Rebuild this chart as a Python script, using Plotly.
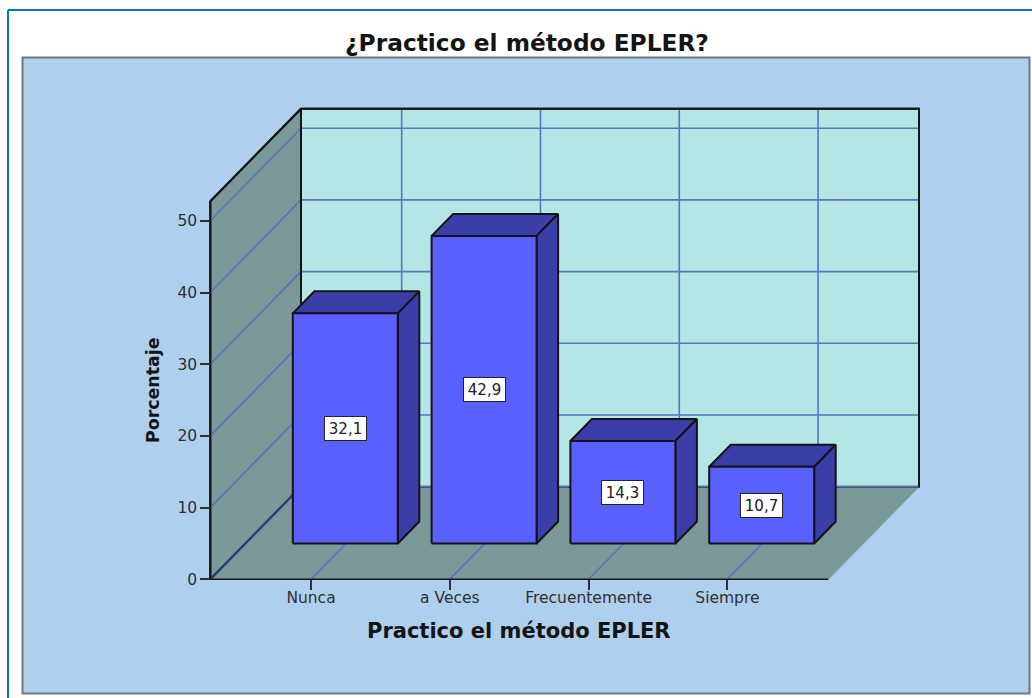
import plotly.graph_objects as go

categories = ["Nunca", "a Veces", "Frecuentemente", "Siempre"]
values = [32.1, 42.9, 14.3, 10.7]
value_labels = ["32,1", "42,9", "14,3", "10,7"]
y_ticks = [0, 10, 20, 30, 40, 50]

W, H = 1032, 698
px_per_cat = 138.8
px_per_val = 7.17
x0_px = 311.0
y0_px = 579.3
left_px, right_px, top_px = 210.3, 828.3, 201.3
page_x = [(0 - x0_px) / px_per_cat, (W - x0_px) / px_per_cat]
page_y = [(y0_px - H) / px_per_val, y0_px / px_per_val]
a = (left_px - x0_px) / px_per_cat
b = (right_px - x0_px) / px_per_cat
ymax = (y0_px - top_px) / px_per_val

DX, DY = 90.7 / px_per_cat, 92.6 / px_per_val      # depth of the chart box
BX, BY = 34.3 / px_per_cat, 35.8 / px_per_val      # bar front plane
SX, SY = 21.5 / px_per_cat, 22.0 / px_per_val      # bar depth
HW = 52.5 / px_per_cat                             # half bar width

PANEL = "#AECFEE"
WALL = "#B5E6E6"
SIDE = "#7B9999"
FRONT = "#5A5FFF"
DARK = "#3B3EA8"
GRID = "#5B72BC"
EDGE = "#141414"
TXT = "#303030"

fig = go.Figure()


def poly(xs, ys, fill, edge=EDGE, w=2):
    fig.add_trace(go.Scatter(x=xs + xs[:1], y=ys + ys[:1], mode="lines", fill="toself",
                             fillcolor=fill, line=dict(color=edge, width=w),
                             hoverinfo="skip", showlegend=False))


def seg(xs, ys, color=GRID, w=1.6):
    fig.add_trace(go.Scatter(x=xs, y=ys, mode="lines", line=dict(color=color, width=w),
                             hoverinfo="skip", showlegend=False))


# floor, back wall, side wall
poly([a, b, b + DX, a + DX], [0, 0, DY, DY], SIDE, edge=SIDE, w=1)
poly([a + DX, b + DX, b + DX, a + DX], [DY, DY, ymax + DY, ymax + DY], WALL)
poly([a, a + DX, a + DX, a], [0, DY, ymax + DY, ymax], SIDE)

# gridlines
for t in y_ticks:
    if t == 0:
        seg([a, a + DX], [0, DY], color="#2F3F80", w=2)
    else:
        seg([a, a + DX], [t, t + DY])
    seg([a + DX, b + DX], [t + DY, t + DY])
for i in range(len(categories)):
    seg([i, i + DX], [0, DY])
    seg([i + DX, i + DX], [DY, ymax + DY])

# outlines on top of the grid
seg([a, a], [0, ymax], color=EDGE, w=2)
seg([a, a + DX], [ymax, ymax + DY], color=EDGE, w=2)
seg([a + DX, a + DX], [DY, ymax + DY], color=EDGE, w=2)
seg([b + DX, b + DX], [DY, ymax + DY], color=EDGE, w=2)
seg([a + DX, b + DX], [ymax + DY, ymax + DY], color=EDGE, w=2)
seg([a, b], [0, 0], color=EDGE, w=1.6)

# bars
for i, v in enumerate(values):
    l, r = i + BX - HW, i + BX + HW
    lo, hi = BY, BY + v
    poly([l, r, r + SX, l + SX], [hi, hi, hi + SY, hi + SY], DARK)
    poly([r, r + SX, r + SX, r], [lo, lo + SY, hi + SY, hi], DARK)
    poly([l, r, r, l], [lo, lo, hi, hi], FRONT)
    fig.add_annotation(x=i + BX, y=BY + v / 2, text=value_labels[i], showarrow=False,
                       width=41, height=23, bgcolor="white", bordercolor="#222222",
                       borderwidth=1, borderpad=0, align="center",
                       font=dict(family="DejaVu Sans", size=15, color="#202020"))


def pxx(p):
    return p / W


def pxy(p):
    return 1 - p / H


fig.add_annotation(xref="paper", yref="paper", x=pxx(519), y=pxy(631), showarrow=False,
                   xanchor="center", yanchor="middle",
                   text="<b>Practico el método EPLER</b>",
                   font=dict(family="DejaVu Sans", size=21, color="#141414"))
fig.add_annotation(xref="paper", yref="paper", x=pxx(153), y=pxy(390), showarrow=False,
                   xanchor="center", yanchor="middle",
                   text="<b>Porcentaje</b>", textangle=-90,
                   font=dict(family="DejaVu Sans", size=17.4, color="#141414"))

shapes = [
    dict(type="rect", xref="paper", yref="paper", layer="below",
         x0=pxx(22.5), x1=pxx(1029.5), y0=pxy(693.5), y1=pxy(57.5),
         fillcolor=PANEL, line=dict(color="#707880", width=2)),
    dict(type="line", xref="paper", yref="paper", layer="below",
         x0=pxx(8), x1=pxx(8), y0=0, y1=pxy(10), line=dict(color="#0A72C8", width=2)),
    dict(type="line", xref="paper", yref="paper", layer="below",
         x0=pxx(8), x1=1, y0=pxy(10), y1=pxy(10), line=dict(color="#0A72C8", width=2)),
]

fig.update_layout(
    width=W, height=H, margin=dict(l=0, r=0, t=0, b=0),
    paper_bgcolor="white", plot_bgcolor="rgba(0,0,0,0)", showlegend=False, shapes=shapes,
    title=dict(text="<b>¿Practico el método EPLER?</b>", x=527 / W, xanchor="center",
               y=pxy(43), yanchor="middle",
               font=dict(family="DejaVu Sans", size=23.3, color="#141414")),
    xaxis=dict(domain=[0, 1], range=page_x, anchor="free", position=pxy(y0_px),
               tickmode="array", tickvals=list(range(len(categories))), ticktext=categories,
               ticks="outside", ticklen=10, tickwidth=2, tickcolor="#303030",
               ticklabelstandoff=-6,
               tickfont=dict(family="DejaVu Sans", size=15.5, color=TXT),
               showgrid=False, zeroline=False, showline=False),
    yaxis=dict(domain=[0, 1], range=page_y, anchor="free", position=pxx(left_px),
               tickmode="array", tickvals=y_ticks, ticktext=[str(t) for t in y_ticks],
               ticks="outside", ticklen=10, tickwidth=1.5, tickcolor="#303030",
               tickfont=dict(family="DejaVu Sans", size=15.5, color=TXT),
               showgrid=False, zeroline=False, showline=False),
)

fig.write_html("out.html", default_width="1032px", default_height="698px",
               post_script="document.body.style.margin='0';",
               config={"displayModeBar": False, "responsive": False})
